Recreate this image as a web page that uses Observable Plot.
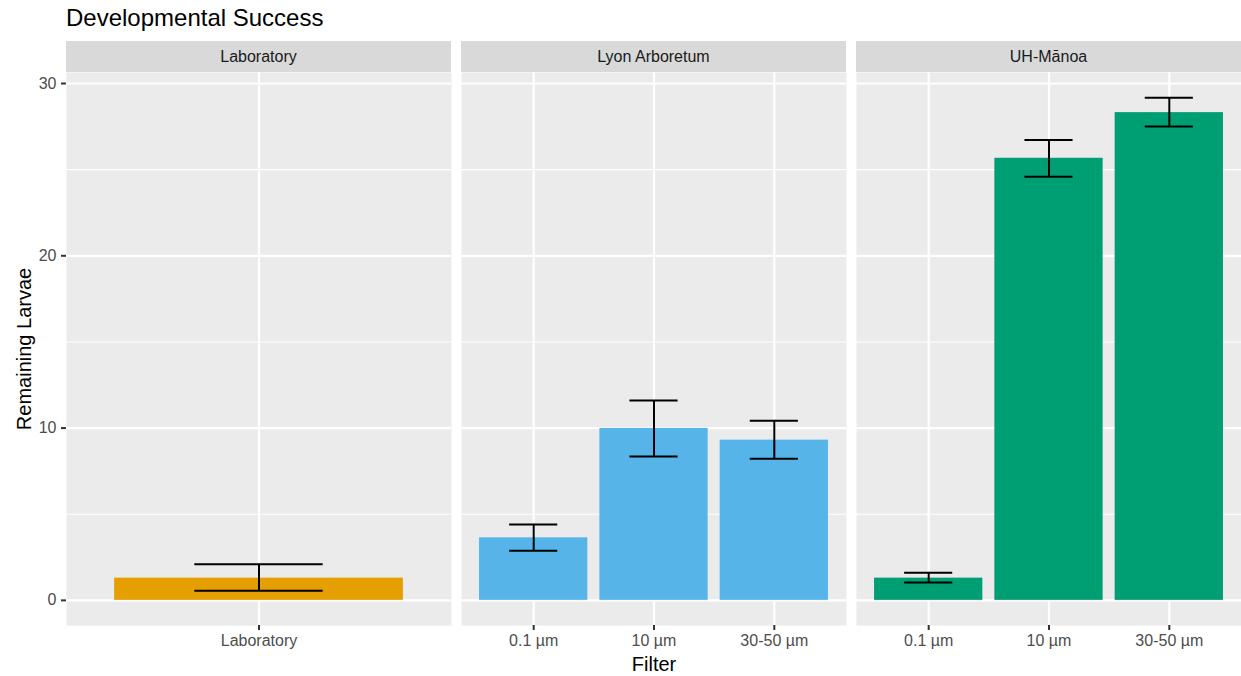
<!DOCTYPE html>
<html><head><meta charset="utf-8">
<script src="https://cdn.jsdelivr.net/npm/d3@7"></script>
<script src="https://cdn.jsdelivr.net/npm/@observablehq/plot@0.6"></script>
<style>
body{margin:0;background:#fff;}
#chart{position:relative;width:1241px;height:676px;overflow:hidden;font-family:"Liberation Sans",Arial,Helvetica,sans-serif;}
.title{position:absolute;left:66px;top:4px;font-size:24px;color:#000;line-height:28px;white-space:nowrap;}
.strip{position:absolute;top:41px;height:31px;background:#D9D9D9;color:#1A1A1A;font-size:16px;line-height:31px;text-align:center;white-space:nowrap;}
.panel{position:absolute;top:62px;}
.panel svg{overflow:visible;}
</style></head><body><div id="chart"></div>
<script>
// ---- data ----
const sites = ["Laboratory", "Lyon Arboretum", "UH-Mānoa"];
const siteColors = ["#E69F00", "#56B4E9", "#009E73"];
const site = ["Laboratory", "Lyon Arboretum", "Lyon Arboretum", "Lyon Arboretum", "UH-Mānoa", "UH-Mānoa", "UH-Mānoa"];
const filter = ["Laboratory", "0.1 µm", "10 µm", "30-50 µm", "0.1 µm", "10 µm", "30-50 µm"];
const meanLarvae = [1.29, 3.63, 9.98, 9.30, 1.29, 25.66, 28.31];
const lowerLarvae = [0.56, 2.88, 8.35, 8.22, 1.03, 24.59, 27.51];
const upperLarvae = [2.09, 4.41, 11.60, 10.42, 1.61, 26.72, 29.18];
const majorTicks = [0, 10, 20, 30];
const minorTicks = [5, 15, 25];
const titleText = "Developmental Success";
const yLabel = "Remaining Larvae";
const xLabel = "Filter";

const data = site.map((s, i) => ({site: s, filter: filter[i], mean: meanLarvae[i], lo: lowerLarvae[i], hi: upperLarvae[i]}));

// ggplot-like expansion of the continuous y scale
const yMax = d3.max(upperLarvae);
const yDomain = [-0.05 * yMax, yMax * 1.05];

const chart = document.getElementById("chart");
const title = document.createElement("div");
title.className = "title";
title.textContent = titleText;
chart.appendChild(title);

const PW = 385, GAP = 10, LEFT = 66;
const fontFamily = '"Liberation Sans", Arial, Helvetica, sans-serif';

sites.forEach((s, i) => {
  const rows = data.filter(d => d.site === s);
  const doms = rows.map(d => d.filter);
  const n = doms.length;
  const step = PW / (n + 0.2);
  const capInset = 0.25 * step;
  const first = i === 0;
  const panelLeft = LEFT + i * (PW + GAP);

  const strip = document.createElement("div");
  strip.className = "strip";
  strip.style.left = panelLeft + "px";
  strip.style.width = PW + "px";
  strip.textContent = s;
  chart.appendChild(strip);

  const marks = [
    Plot.frame({fill: "#EBEBEB", stroke: "none"}),
    Plot.gridY(minorTicks, {stroke: "white", strokeOpacity: 1, strokeWidth: 1.1}),
    Plot.gridY(majorTicks, {stroke: "white", strokeOpacity: 1, strokeWidth: 2.2}),
    Plot.gridX(doms, {stroke: "white", strokeOpacity: 1, strokeWidth: 2.2}),
    Plot.barY(rows, {x: "filter", y: "mean", fill: siteColors[i]}),
    Plot.ruleX(rows, {x: "filter", y1: "lo", y2: "hi", stroke: "black", strokeWidth: 2}),
    Plot.tickY(rows, {x: "filter", y: "lo", stroke: "black", strokeWidth: 2, insetLeft: capInset, insetRight: capInset}),
    Plot.tickY(rows, {x: "filter", y: "hi", stroke: "black", strokeWidth: 2, insetLeft: capInset, insetRight: capInset}),
    Plot.axisX({tickSize: 5, tickPadding: 4, fontSize: 16, fill: "#4D4D4D", stroke: "#333333", strokeWidth: 2, label: null})
  ];
  if (first) {
    marks.push(Plot.axisY({ticks: majorTicks, tickSize: 5, tickPadding: 5, fontSize: 16, fill: "#4D4D4D", stroke: "#333333", strokeWidth: 2, label: null}));
    marks.push(Plot.text([yLabel], {frameAnchor: "left", textAnchor: "middle", rotate: -90, dx: -41.5, fontSize: 20, fill: "black"}));
  }
  if (i === 1) {
    marks.push(Plot.text([xLabel], {frameAnchor: "bottom", lineAnchor: "bottom", dy: 45, fontSize: 20, fill: "black"}));
  }

  const svg = Plot.plot({
    width: PW + (first ? LEFT : 0),
    height: 614,
    marginTop: 10,
    marginBottom: 51,
    marginLeft: first ? LEFT : 0,
    marginRight: 0,
    x: {type: "band", domain: doms, paddingInner: 0.1, paddingOuter: 0.15, round: false},
    y: {domain: yDomain, axis: first ? undefined : null},
    marks,
    style: {fontFamily, background: "transparent", overflow: "visible"}
  });
  const wrap = document.createElement("div");
  wrap.className = "panel";
  wrap.style.left = (first ? 0 : panelLeft) + "px";
  wrap.appendChild(svg);
  chart.appendChild(wrap);
});
</script>
</body></html>
